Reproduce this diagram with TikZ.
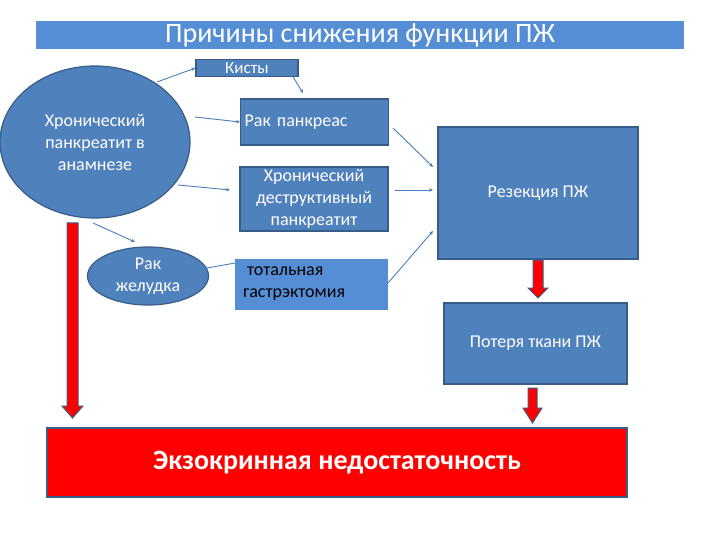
\documentclass[tikz,border=0pt]{standalone}
\usepackage{fontspec}
\setmainfont{Carlito}
\usetikzlibrary{arrows.meta,shapes.geometric}
\definecolor{boxblue}{HTML}{4F81BD}
\definecolor{boxedge}{HTML}{385D8A}
\definecolor{lightblue}{HTML}{558ED5}
\definecolor{linkblue}{HTML}{4A7EBB}
\definecolor{alarm}{HTML}{FF0000}
\tikzset{
  bluebox/.style={draw=boxedge, line width=1.2pt, fill=boxblue, text=white, inner sep=0pt},
  blueoval/.style={draw=boxedge, line width=1.2pt, fill=boxblue, text=white, ellipse, inner sep=0pt},
  nodefont/.style={font=\fontsize{18}{22}\selectfont},
  link/.style={draw=linkblue, line width=0.9pt, -{Stealth[length=4pt,width=3.5pt]}},
  plainlink/.style={draw=linkblue, line width=0.9pt},
  redarrow/.style={fill=alarm, draw=boxedge, line width=1pt, line join=miter},
}
\begin{document}
\begin{tikzpicture}[x=1pt,y=-1pt]
\useasboundingbox (0,0) rectangle (720,540);
\fill[white] (0,0) rectangle (720,540);
% title
\node[fill=lightblue, minimum width=648pt, minimum height=28pt, inner sep=0pt, text=white, font=\fontsize{28}{30}\selectfont] (title) at (360,35) {Причины снижения функции ПЖ};
% nodes
\node[bluebox, minimum width=102pt, minimum height=17pt, font=\fontsize{17}{18}\selectfont] (kist) at (247,68) {Кисты};
\node[blueoval, nodefont, minimum width=190pt, minimum height=152pt, align=center] (chp) at (95,142) {Хронический\\панкреатит в\\анамнезе};
\node[bluebox, nodefont, minimum width=148pt, minimum height=46pt, anchor=west, text width=140pt, align=left, inner xsep=4pt] (rp) at (240,122) {Рак панкреас};
\node[bluebox, nodefont, minimum width=148pt, minimum height=64pt, align=center] (hdp) at (314,199) {Хронический\\деструктивный\\панкреатит};
\node[blueoval, nodefont, minimum width=121pt, minimum height=58pt, align=center] (rzh) at (148,276) {Рак\\желудка};
\node[fill=lightblue, nodefont, inner sep=0pt, inner xsep=8pt, minimum height=51pt, text width=137pt, text=black, align=left, anchor=west] (tg) at (235,284) {\hspace*{4pt}тотальная\\гастрэктомия};
\node[bluebox, nodefont, minimum width=200pt, minimum height=132pt] (rez) at (538,193) {Резекция ПЖ};
\node[bluebox, nodefont, minimum width=183pt, minimum height=81pt] (pot) at (535.5,343.5) {Потеря ткани ПЖ};
\node[draw=boxedge, line width=1.5pt, fill=alarm, text=white, inner sep=0pt, minimum width=580pt, minimum height=69pt, font=\bfseries\fontsize{28}{30}\selectfont] (exo) at (337,462.5) {Экзокринная недостаточность};
% connectors
\coordinate (a1) at (157,82);
\coordinate (a2) at (293,77);
\coordinate (a3) at (303,93);
\coordinate (a4) at (195,117);
\coordinate (a5) at (178,185);
\coordinate (a6) at (230,190);
\coordinate (a7) at (93,223);
\coordinate (a8) at (135,242);
\coordinate (a9) at (207,268);
\coordinate (a10) at (393,128);
\coordinate (a11) at (433,167);
\coordinate (a12) at (395,190);
\coordinate (a13) at (433,190);
\coordinate (a14) at (388,283);
\coordinate (a15) at (433,231);
\draw[link] (a1) -- (kist.west);
\draw[link] (a2) -- (a3);
\draw[link] (a4) -- (rp.west);
\draw[link] (a5) -- (a6);
\draw[link] (a7) -- (a8);
\draw[plainlink] (a9) -- (tg.west |- 0,263);
\draw[link] (a10) -- (a11);
\draw[link] (a12) -- (a13);
\draw[link] (a14) -- (a15);
% red arrows
\draw[redarrow] (67,223) -- (78,223) -- (78,406) -- (83,406) -- (72.5,418) -- (62,406) -- (67,406) -- cycle;
\draw[redarrow] (533,260) -- (543,260) -- (543,288) -- (548,288) -- (538,298) -- (528,288) -- (533,288) -- cycle;
\draw[redarrow] (528,388) -- (537,388) -- (537,408) -- (542,408) -- (532.5,423) -- (523,408) -- (528,408) -- cycle;
\end{tikzpicture}
\end{document}
